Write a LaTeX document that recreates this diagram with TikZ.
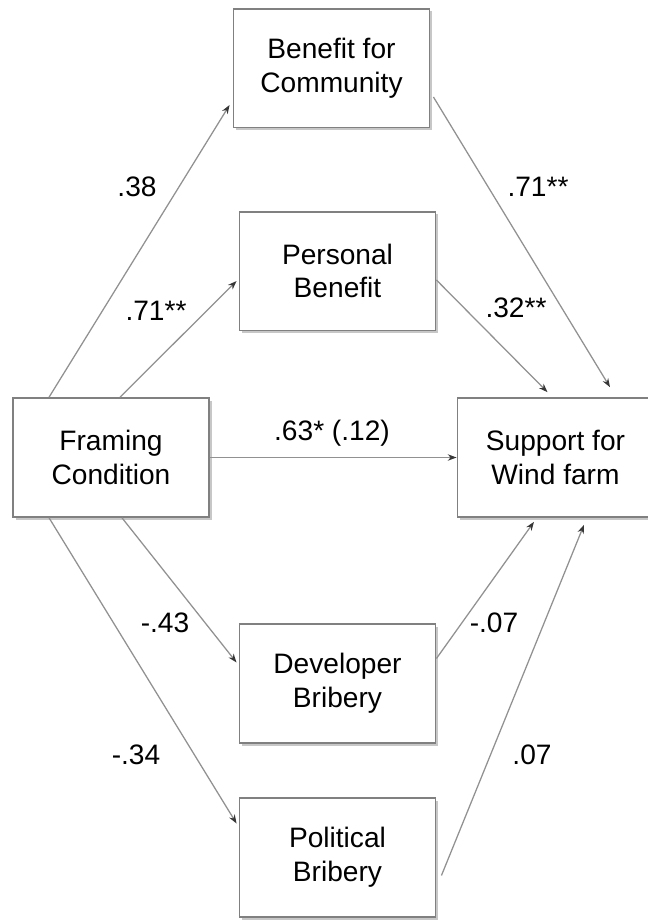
\documentclass[tikz,border=0pt]{standalone}
\usepackage{fontspec}
\setmainfont{Liberation Sans}
\usepackage{tikz}
\usetikzlibrary{arrows.meta,calc,shadows}
\definecolor{boxgray}{RGB}{128,128,128}
\definecolor{linegray}{RGB}{145,145,145}
\definecolor{tipgray}{RGB}{55,55,55}
\tikzstyle{factor} = [rectangle, minimum width=4.9cm, minimum height=2.97cm, inner sep=0pt, draw=boxgray, line width=1.3pt, fill=white, align=center, font=\fontsize{20}{24}\selectfont, drop shadow={shadow xshift=0.07cm, shadow yshift=-0.07cm, fill=black!22, opacity=1}]
\tikzstyle{effect} = [draw=linegray, line width=0.9pt, -{Stealth[length=0.22cm, width=0.16cm, color=tipgray]}]
\tikzstyle{coef} = [font=\fontsize{20}{24}\selectfont]

\begin{document}
\begin{tikzpicture}[x=0.025cm, y=-0.025cm]
\clip (0,0) rectangle (648,923);
\node (comm) [factor] at (331.5,68) {Benefit for\\Community};
\node (pers) [factor] at (337.5,271) {Personal\\Benefit};
\node (frame) [factor] at (111,457.5) {Framing\\Condition};
\node (supp) [factor] at (555.5,457.5) {Support for\\Wind farm};
\node (dev) [factor] at (337.5,683.5) {Developer\\Bribery};
\node (pol) [factor] at (337.5,857.5) {Political\\Bribery};
%paths a
\draw[effect] ($(frame.north west)+(37,0)$) -- ($(comm.west)+(-3,37)$);
\draw[effect] ($(frame.north)+(9,0)$) -- ($(pers.west)+(-2,10)$);
\draw[effect] (frame.east) -- (supp.west);
\draw[effect] ($(frame.south)+(11,0)$) -- ($(dev.west)+(-2,-21)$);
\draw[effect] ($(frame.south west)+(37,0)$) -- ($(pol.west)+(-2,-34)$);
%paths b
\draw[effect] ($(comm.east)+(3,29)$) -- ($(supp.north)+(54.5,-10)$);
\draw[effect] ($(pers.east)+(0,9)$) -- ($(supp.north)+(-8,-5)$);
\draw[effect] ($(dev.east)+(0,-25)$) -- ($(supp.south)+(-21.5,4)$);
\draw[effect] ($(pol.east)+(5,18)$) -- ($(supp.south)+(28.5,7)$);
%coefficients
\node (c1) [coef] at (137,187) {.38};
\node (c2) [coef] at (156,311) {.71**};
\node (c3) [coef] at (332,433) {.63* (.12)};
\node (c4) [coef] at (165,623) {-.43};
\node (c5) [coef] at (136,755) {-.34};
\node (c6) [coef] at (538,187) {.71**};
\node (c7) [coef] at (516,308) {.32**};
\node (c8) [coef] at (494,623) {-.07};
\node (c9) [coef] at (532,755) {.07};
\end{tikzpicture}
\end{document}
